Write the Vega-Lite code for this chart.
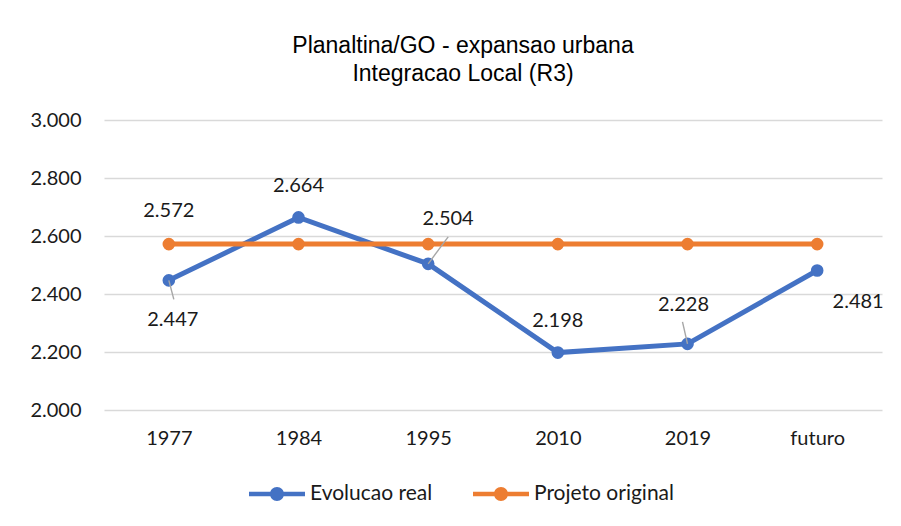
{
  "$schema": "https://vega.github.io/schema/vega-lite/v6.json",
  "width": 778,
  "height": 290,
  "autosize": {"type": "none"},
  "padding": {"left": 104, "top": 120, "right": 19, "bottom": 116},
  "background": "white",
  "config": {"view": {"stroke": null}, "font": "Lato"},
  "title": {
    "text": ["Planaltina/GO - expansao urbana", "Integracao Local (R3)"],
    "font": "Liberation Sans",
    "fontSize": 23,
    "fontWeight": "normal",
    "color": "#000000",
    "anchor": "middle",
    "frame": "group",
    "dx": -30,
    "offset": 24,
    "lineHeight": 28
  },
  "data": {
    "values": [
      {"year": "1977", "series": "Evolucao real", "value": 2.447},
      {"year": "1984", "series": "Evolucao real", "value": 2.664},
      {"year": "1995", "series": "Evolucao real", "value": 2.504},
      {"year": "2010", "series": "Evolucao real", "value": 2.198},
      {"year": "2019", "series": "Evolucao real", "value": 2.228},
      {"year": "futuro", "series": "Evolucao real", "value": 2.481},
      {"year": "1977", "series": "Projeto original", "value": 2.572},
      {"year": "1984", "series": "Projeto original", "value": 2.572},
      {"year": "1995", "series": "Projeto original", "value": 2.572},
      {"year": "2010", "series": "Projeto original", "value": 2.572},
      {"year": "2019", "series": "Projeto original", "value": 2.572},
      {"year": "futuro", "series": "Projeto original", "value": 2.572}
    ]
  },
  "encoding": {
    "x": {
      "field": "year",
      "type": "ordinal",
      "sort": ["1977", "1984", "1995", "2010", "2019", "futuro"],
      "scale": {"type": "point", "padding": 0.5},
      "axis": {
        "title": null,
        "domain": false,
        "ticks": false,
        "grid": false,
        "labelAngle": 0,
        "labelFont": "Lato",
        "labelFontSize": 20,
        "labelColor": "#1a1a1a",
        "labelPadding": 18
      }
    },
    "y": {
      "field": "value",
      "type": "quantitative",
      "scale": {"domain": [2, 3], "zero": false, "nice": false},
      "axis": {
        "title": null,
        "values": [2, 2.2, 2.4, 2.6, 2.8, 3],
        "format": ".3f",
        "domain": false,
        "ticks": false,
        "grid": true,
        "gridColor": "#d9d9d9",
        "gridWidth": 1.5,
        "labelFont": "Lato",
        "labelFontSize": 20,
        "labelColor": "#1a1a1a",
        "labelPadding": 23
      }
    }
  },
  "layer": [
    {
      "mark": {"type": "line", "strokeWidth": 5},
      "encoding": {
        "color": {
          "field": "series",
          "type": "nominal",
          "scale": {"domain": ["Evolucao real", "Projeto original"], "range": ["#4472C4", "#ED7D31"]},
          "legend": {
            "title": null,
            "orient": "none",
            "direction": "horizontal",
            "legendX": 145,
            "legendY": 346,
            "padding": 0,
            "symbolType": "M-1,-0.08L1,-0.08L1,0.08L-1,0.08Z M0.25,0A0.25,0.25 0 1,1 -0.25,0A0.25,0.25 0 1,1 0.25,0Z",
            "symbolSize": 3136,
            "symbolStrokeWidth": 0,
            "labelFont": "Lato",
            "labelFontSize": 21,
            "labelColor": "#1a1a1a",
            "labelOffset": 5,
            "columnPadding": 40,
            "encode": {
              "symbols": {
                "update": {
                  "fill": {"scale": "color", "field": "value"},
                  "strokeWidth": {"value": 0},
                  "opacity": {"value": 1}
                }
              }
            }
          }
        }
      }
    },
    {
      "mark": {"type": "point", "filled": true, "size": 160, "opacity": 1},
      "encoding": {
        "color": {"field": "series", "type": "nominal"}
      }
    },
    {
      "transform": [{"filter": "datum.series == 'Evolucao real' && datum.year == '1977'"}],
      "mark": {"type": "rule", "color": "#a6a6a6", "strokeWidth": 1.4, "x2Offset": 5, "y2Offset": 19},
      "encoding": {"x2": {"field": "year"}, "y2": {"field": "value"}}
    },
    {
      "transform": [{"filter": "datum.series == 'Evolucao real' && datum.year == '1995'"}],
      "mark": {"type": "rule", "color": "#a6a6a6", "strokeWidth": 1.4, "x2Offset": 20, "y2Offset": -27},
      "encoding": {"x2": {"field": "year"}, "y2": {"field": "value"}}
    },
    {
      "transform": [{"filter": "datum.series == 'Evolucao real' && datum.year == '2019'"}],
      "mark": {"type": "rule", "color": "#a6a6a6", "strokeWidth": 1.4, "x2Offset": -5, "y2Offset": -22},
      "encoding": {"x2": {"field": "year"}, "y2": {"field": "value"}}
    },
    {
      "transform": [{"filter": "datum.series == 'Projeto original' && datum.year == '1977'"}],
      "mark": {"type": "text", "dx": 0, "dy": -33, "fontSize": 20, "font": "Lato", "color": "#1a1a1a", "baseline": "middle", "align": "center"},
      "encoding": {"text": {"field": "value", "format": ".3f"}}
    },
    {
      "transform": [{"filter": "datum.series == 'Evolucao real' && datum.year == '1977'"}],
      "mark": {"type": "text", "dx": 4, "dy": 40, "fontSize": 20, "font": "Lato", "color": "#1a1a1a", "baseline": "middle", "align": "center"},
      "encoding": {"text": {"field": "value", "format": ".3f"}}
    },
    {
      "transform": [{"filter": "datum.series == 'Evolucao real' && datum.year == '1984'"}],
      "mark": {"type": "text", "dx": 0, "dy": -31, "fontSize": 20, "font": "Lato", "color": "#1a1a1a", "baseline": "middle", "align": "center"},
      "encoding": {"text": {"field": "value", "format": ".3f"}}
    },
    {
      "transform": [{"filter": "datum.series == 'Evolucao real' && datum.year == '1995'"}],
      "mark": {"type": "text", "dx": 20, "dy": -45, "fontSize": 20, "font": "Lato", "color": "#1a1a1a", "baseline": "middle", "align": "center"},
      "encoding": {"text": {"field": "value", "format": ".3f"}}
    },
    {
      "transform": [{"filter": "datum.series == 'Evolucao real' && datum.year == '2010'"}],
      "mark": {"type": "text", "dx": 0, "dy": -32, "fontSize": 20, "font": "Lato", "color": "#1a1a1a", "baseline": "middle", "align": "center"},
      "encoding": {"text": {"field": "value", "format": ".3f"}}
    },
    {
      "transform": [{"filter": "datum.series == 'Evolucao real' && datum.year == '2019'"}],
      "mark": {"type": "text", "dx": -4, "dy": -39, "fontSize": 20, "font": "Lato", "color": "#1a1a1a", "baseline": "middle", "align": "center"},
      "encoding": {"text": {"field": "value", "format": ".3f"}}
    },
    {
      "transform": [{"filter": "datum.series == 'Evolucao real' && datum.year == 'futuro'"}],
      "mark": {"type": "text", "dx": 41, "dy": 31, "fontSize": 20, "font": "Lato", "color": "#1a1a1a", "baseline": "middle", "align": "center"},
      "encoding": {"text": {"field": "value", "format": ".3f"}}
    }
  ]
}
